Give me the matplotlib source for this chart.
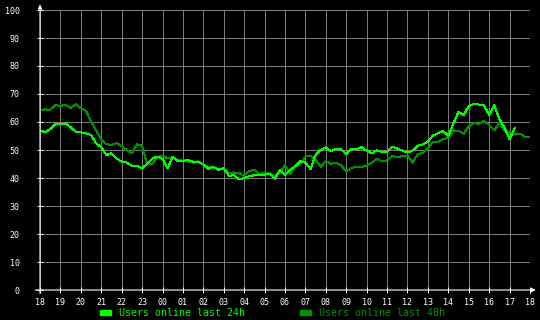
import numpy as np
import matplotlib
matplotlib.use('Agg')
import matplotlib.pyplot as plt
from matplotlib.patches import Rectangle

# x ticks: hour labels, one per hour over 24h starting at 18:00
hour_labels = ['18', '19', '20', '21', '22', '23', '00', '01', '02', '03', '04', '05',
               '06', '07', '08', '09', '10', '11', '12', '13', '14', '15', '16', '17', '18']
y_ticks = [0, 10, 20, 30, 40, 50, 60, 70, 80, 90, 100]

# samples every 15 minutes (hours since 18:00)
step = 0.25

users_24h = [
    56.9, 56.4, 57.4, 59.2, 59.2, 59.5, 58.1, 56.5, 56.3, 56.0,
    55.4, 52.4, 51.0, 48.2, 48.8, 47.0, 45.8, 45.5, 44.3, 44.3,
    43.5, 45.0, 47.0, 47.6, 46.8, 43.5, 47.5, 46.0, 46.0, 46.5,
    45.8, 45.8, 44.8, 43.3, 44.0, 42.9, 43.5, 40.8, 41.0, 39.5,
    40.0, 40.6, 41.0, 41.0, 41.2, 41.6, 39.6, 43.0, 41.0, 43.0,
    44.2, 46.0, 45.5, 43.2, 48.3, 50.0, 51.0, 49.6, 50.5, 50.2,
    48.5, 50.5, 50.2, 51.0, 49.7, 48.8, 49.9, 49.3, 49.3, 51.2,
    50.5, 49.8, 49.1, 49.8, 51.5, 52.0, 53.0, 55.2, 56.0, 56.8,
    55.0, 59.5, 63.7, 62.4, 65.7, 66.5, 66.2, 65.9, 62.5, 66.0,
    61.0, 58.0, 53.8, 57.9,
]

users_48h = [
    64.3, 64.5, 64.3, 66.0, 65.7, 66.2, 65.0, 66.3, 65.0, 64.0,
    60.2, 57.0, 53.6, 52.1, 51.8, 52.5, 51.4, 50.0, 48.8, 52.0,
    51.5, 44.8, 45.0, 47.5, 48.0, 47.0, 47.5, 46.5, 46.5, 45.8,
    45.4, 46.0, 44.8, 44.0, 43.5, 43.3, 43.3, 41.8, 42.0, 41.8,
    40.8, 42.5, 43.0, 41.3, 42.0, 41.8, 40.6, 41.8, 44.5, 41.5,
    44.0, 45.0, 47.7, 48.0, 46.5, 44.0, 46.0, 45.0, 45.5, 44.5,
    42.4, 43.5, 44.0, 43.8, 44.5, 45.5, 46.8, 46.0, 46.3, 47.8,
    47.5, 47.8, 48.0, 45.5, 48.5, 49.0, 50.5, 53.0, 52.8, 54.0,
    54.2, 57.0, 56.8, 55.8, 58.5, 59.6, 59.3, 60.4, 58.9, 57.0,
    59.7, 57.0, 56.4, 55.6, 55.8, 54.8, 54.8,
]

BRIGHT = '#00ff00'
DARK = '#009000'
GRID = '#7a7a7a'
mono = 'DejaVu Sans Mono'

fig = plt.figure(figsize=(5.4, 3.2), dpi=100, facecolor='black')
ax = fig.add_axes([40 / 540, 30 / 320, 490 / 540, 280 / 320], facecolor='black')

x24 = np.arange(len(users_24h)) * step
x48 = np.arange(len(users_48h)) * step
ax.plot(x48, users_48h, color=DARK, lw=0.72, zorder=3, antialiased=False)
ax.plot(x24, users_24h, color=BRIGHT, lw=0.72, zorder=4, antialiased=False)

ax.set_xlim(0, 24)
ax.set_ylim(0, 100)
ax.set_xticks(range(len(hour_labels)))
ax.set_xticklabels(hour_labels)
ax.set_yticks(y_ticks)
ax.set_yticklabels([str(v) for v in y_ticks])
ax.grid(True, color=GRID, lw=0.72, zorder=1, antialiased=False)
ax.tick_params(colors='white', direction='inout', length=5, width=0.72,
               labelsize=6)
ax.tick_params(axis='y', pad=12)
ax.tick_params(axis='x', pad=3)
for lbl in ax.get_xticklabels() + ax.get_yticklabels():
    lbl.set_fontfamily(mono)
for s in ax.spines.values():
    s.set_visible(False)

# axis lines with arrows
ax.annotate('', xy=(0, 1.02), xytext=(0, -0.012), xycoords='axes fraction',
            arrowprops=dict(arrowstyle='-|>', color='white', lw=0.8,
                            mutation_scale=6, shrinkA=0, shrinkB=0),
            annotation_clip=False, zorder=5)
ax.annotate('', xy=(1.012, 0), xytext=(-0.01, 0), xycoords='axes fraction',
            arrowprops=dict(arrowstyle='-|>', color='white', lw=0.8,
                            mutation_scale=6, shrinkA=0, shrinkB=0),
            annotation_clip=False, zorder=5)

# legend
fig.patches.append(Rectangle((100 / 540, 5 / 320), 11 / 540, 5 / 320,
                             transform=fig.transFigure, color=BRIGHT))
fig.text(119 / 540, 7.5 / 320, 'Users online last 24h', color=BRIGHT,
         fontsize=7.2, family=mono, va='center', ha='left')
fig.patches.append(Rectangle((300 / 540, 5 / 320), 11 / 540, 5 / 320,
                             transform=fig.transFigure, color=DARK))
fig.text(319 / 540, 7.5 / 320, 'Users online last 48h', color=DARK,
         fontsize=7.2, family=mono, va='center', ha='left')

fig.savefig('out.png', dpi=100, facecolor='black')
